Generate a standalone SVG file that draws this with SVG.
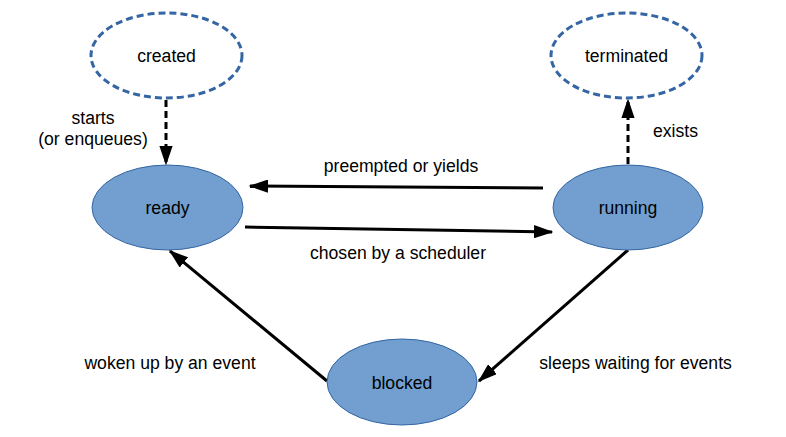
<svg xmlns="http://www.w3.org/2000/svg" width="786" height="437" viewBox="0 0 786 437">
<style>
text{font-family:"Liberation Sans",Arial,sans-serif;font-size:17.6px;fill:#000}
.n text{text-anchor:middle}
.solid{fill:#729fcf;stroke:#3465a4;stroke-width:1}
.dash{fill:#fff;stroke:#3465a4;stroke-width:3;stroke-dasharray:7 4}
.e{stroke:#000;stroke-width:3;fill:none}
.ed{stroke:#000;stroke-width:3;fill:none;stroke-dasharray:7 4}
</style>
<defs>
<marker id="ah" markerWidth="6.5" markerHeight="4.4" refX="6" refY="2.2" orient="auto" markerUnits="strokeWidth">
<path d="M0,0 L6.5,2.2 L0,4.4 Z" fill="#000"/>
</marker>
</defs>
<rect width="786" height="437" fill="#fff"/>
<g id="connectors">
<line class="ed" x1="166" y1="100" x2="166" y2="164" marker-end="url(#ah)"/>
<line class="ed" x1="628" y1="164" x2="628" y2="100" marker-end="url(#ah)"/>
<line class="e" x1="543" y1="188" x2="250" y2="186" marker-end="url(#ah)"/>
<line class="e" x1="245" y1="227" x2="552" y2="232" marker-end="url(#ah)"/>
<line class="e" x1="628" y1="250" x2="479" y2="381" marker-end="url(#ah)"/>
<line class="e" x1="327" y1="381" x2="170" y2="251" marker-end="url(#ah)"/>
<text x="93" y="124" text-anchor="middle">starts</text>
<text x="93" y="145" text-anchor="middle">(or enqueues)</text>
<text x="653" y="137">exists</text>
<text x="401" y="172" text-anchor="middle">preempted or yields</text>
<text x="398" y="259" text-anchor="middle">chosen by a scheduler</text>
<text x="170" y="369" text-anchor="middle">woken up by an event</text>
<text x="635.5" y="369" text-anchor="middle">sleeps waiting for events</text>
</g>
<g id="created" class="n"><ellipse class="dash" cx="166.5" cy="55.5" rx="75.5" ry="42.5"/><text x="166.5" y="62">created</text></g>
<g id="terminated" class="n"><ellipse class="dash" cx="626.5" cy="55.5" rx="75.5" ry="42.5"/><text x="626.5" y="62">terminated</text></g>
<g id="ready" class="n"><ellipse class="solid" cx="167.5" cy="207.5" rx="75.5" ry="42.5"/><text x="167.5" y="214">ready</text></g>
<g id="running" class="n"><ellipse class="solid" cx="628" cy="207.5" rx="75" ry="42.5"/><text x="628" y="214">running</text></g>
<g id="blocked" class="n"><ellipse class="solid" cx="402" cy="382" rx="75" ry="43"/><text x="402" y="388.5">blocked</text></g>
</svg>
